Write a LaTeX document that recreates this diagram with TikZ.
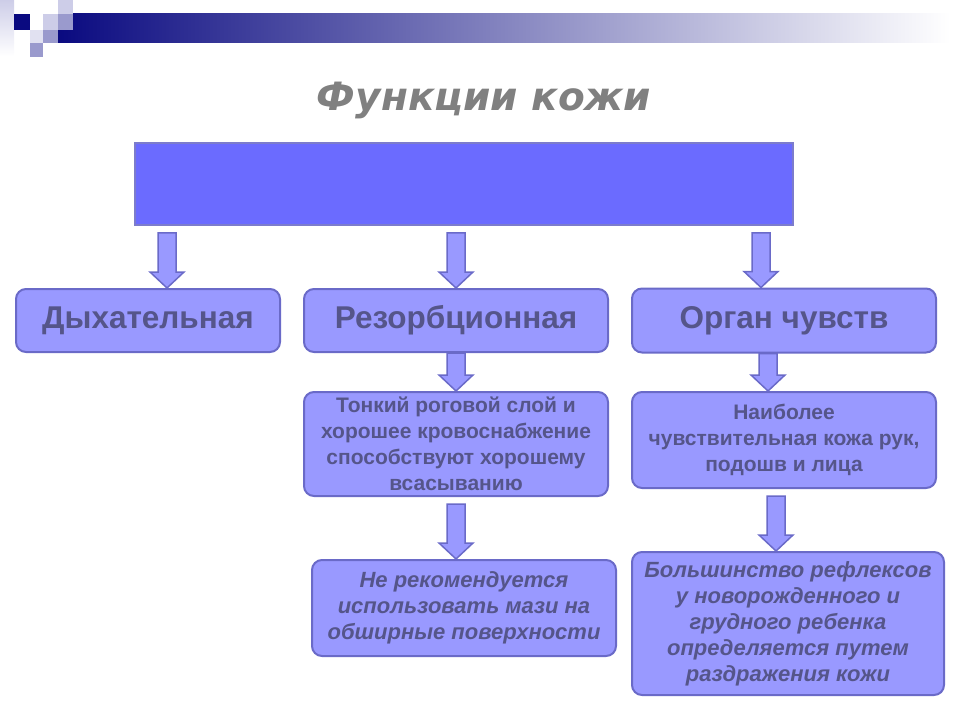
\documentclass[tikz,border=0pt]{standalone}
\usepackage{fontspec}
\setmainfont{Liberation Sans}
\newfontfamily\titlefont{DejaVu Sans}
\usetikzlibrary{calc}
\definecolor{boxfill}{HTML}{9999FF}
\definecolor{boxline}{HTML}{6A6AC8}
\definecolor{topfill}{HTML}{6B6BFF}
\definecolor{topline}{HTML}{7C7CCC}
\definecolor{boxtext}{HTML}{55558A}
\definecolor{navy}{HTML}{0A0A80}
\definecolor{barmid}{HTML}{B8B8CE}
\definecolor{lavmid}{HTML}{9A9ACD}
\definecolor{lavlight}{HTML}{CDCDE8}
% block arrow from #1 down to #2
\newcommand{\blockarrow}[2]{%
  \filldraw[barrow] let \p1=(#1), \p2=(#2) in
    (\x1-9pt,\y1) -- (\x1+9pt,\y1) -- (\x1+9pt,\y2+16pt) -- (\x1+17pt,\y2+16pt)
    -- (\x1,\y2) -- (\x1-17pt,\y2+16pt) -- (\x1-9pt,\y2+16pt) -- cycle;}
\begin{document}
\begin{tikzpicture}[x=1pt,y=-1pt,
  fn box/.style={draw=boxline, fill=boxfill, line width=2pt, rounded corners=10pt,
    inner sep=0pt, align=center, text=boxtext, font=\bfseries},
  big/.style={fn box, font=\fontsize{31.5}{36}\selectfont\bfseries},
  small/.style={fn box, font=\fontsize{21}{26}\selectfont\bfseries},
  smallit/.style={fn box, font=\fontsize{22}{26}\selectfont\bfseries\itshape},
  barrow/.style={draw=boxline, fill=boxfill, line width=1.5pt, line join=miter}]
  \useasboundingbox (0,0) rectangle (960,703);

  % corner decoration
  \shade[top color=lavlight, bottom color=white] (0,0) rectangle (14,56);
  \shade[left color=navy, middle color=barmid, right color=white] (58,14) rectangle (950,43);
  \fill[navy] (14,14) rectangle (30,30);
  \fill[lavlight] (43,14) rectangle (58,30);
  \fill[lavlight] (58,0) rectangle (73,14);
  \fill[lavmid] (58,14) rectangle (73,30);
  \fill[lavlight!60] (30,30) rectangle (43,43);
  \fill[lavmid] (43,30) rectangle (58,43);
  \fill[lavmid] (30,43) rectangle (43,57);

  % title
  \node[text=black!50, font=\fontsize{39}{44}\selectfont\titlefont\bfseries\itshape] (title) at (484,100) {Функции кожи};

  \node[draw=topline, fill=topfill, line width=2pt, minimum width=658, minimum height=82] (top) at (464,184) {};

  \node[big, minimum width=264, minimum height=63] (dyh) at (148,320.5) {Дыхательная};
  \node[big, minimum width=304, minimum height=63] (rez) at (456,320.5) {Резорбционная};
  \node[big, minimum width=304, minimum height=64] (org) at (784,320.5) {Орган чувств};

  \node[small, minimum width=304, minimum height=104] (thin) at (456,444)
    {Тонкий роговой слой и\\хорошее кровоснабжение\\способствуют хорошему\\всасыванию};
  \node[small, minimum width=304, minimum height=96] (sens) at (784,440)
    {Наиболее\\чувствительная кожа рук,\\подошв и лица};

  \node[smallit, minimum width=304, minimum height=96] (oint) at (464,608)
    {Не рекомендуется\\использовать мази на\\обширные поверхности};
  \node[smallit, minimum width=312, minimum height=143] (refl) at (788,623.5)
    {Большинство рефлексов\\у новорожденного и\\грудного ребенка\\определяется путем\\раздражения кожи};

  % arrows
  \coordinate (a1) at ($(top.south west)+(33,7)$);
  \coordinate (a2) at ($(top.south -| rez.north)+(0,7)$);
  \coordinate (a3) at ($(top.south east)+(-33,7)$);
  \blockarrow{a1}{a1 |- dyh.north}
  \blockarrow{a2}{rez.north}
  \blockarrow{a3}{a3 |- org.north}
  \blockarrow{rez.south}{thin.north}
  \coordinate (a5) at ($(org.south)+(-16,0)$);
  \blockarrow{a5}{a5 |- sens.north}
  \coordinate (a6) at ($(thin.south)+(0,7)$);
  \blockarrow{a6}{a6 |- oint.north}
  \coordinate (a7) at ($(sens.south)+(-8,7)$);
  \blockarrow{a7}{a7 |- refl.north}
\end{tikzpicture}
\end{document}
